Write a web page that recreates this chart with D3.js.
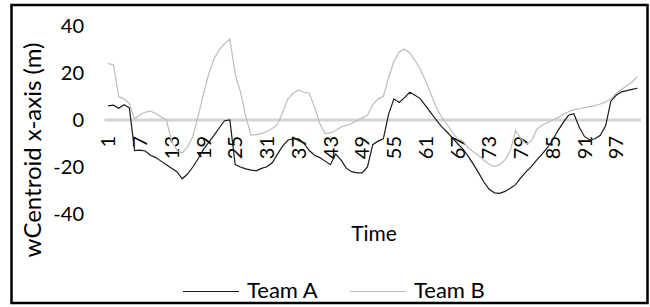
<!DOCTYPE html>
<html>
<head>
<meta charset="utf-8">
<script src="https://cdn.jsdelivr.net/npm/d3@7"></script>
<style>
  body { margin: 0; background: #fff; }
  text { font-family: Lato, "Open Sans", sans-serif; fill: #000; }
</style>
</head>
<body>
<div id="chart"></div>
<script>
// values (101 time steps)
const teamA = [6, 6.3, 5, 6.5, 5.2, -13, -12.8, -13.2, -15, -16, -17.5, -19, -20.5, -22, -25, -23, -20,
  -16.5, -12.5, -9.5, -6.5, -3.3, -0.3, 0, -19, -20, -20.8, -21.3, -21.6, -20.6, -19.9, -18.2, -14.5, -11,
  -8.5, -8, -8, -10, -13, -15, -16, -17.5, -19, -14.5, -17, -20.5, -22, -22.5, -22.5, -20,
  -10.5, -9, -8, 2.5, 9, 7.5, 9.5, 11.8, 10.5, 9, 6, 3, 0, -2.8, -5, -7.5, -10,
  -12.3, -15.3, -18.8, -22.5, -26.4, -29.5, -31, -31.2, -30.4, -29, -27.5, -24.5, -22, -19.7, -17, -14.5, -11.8, -8.5,
  -4.5, -1, 2, 2.7, -3, -7, -8.5, -8, -6.5, -2.5, 8, 10.5, 12, 12.5, 13, 13.5];
const teamB = [24, 23.5, 10, 9, 7, 0.5, 2.2, 3.3, 3.8, 2.8, 1.3, 0, -9, -13, -14, -11.5, -7,
  1.5, 11, 19.5, 26, 30, 32.5, 34.5, 19.5, 12, 1.5, -6.4, -6.2, -5.7, -4.9, -3.6, -2, 3.5,
  9, 11.5, 12.8, 11.8, 11.4, 5.5, -1.5, -5.8, -5.5, -4.5, -3, -2.3, -1.5, -0.3, 0.8, 2,
  6.5, 9, 10, 18, 25, 29, 30.2, 28.5, 25.3, 21.6, 16.5, 11, 5.4, 1.3, -1.8, -5, -8,
  -9, -11.7, -13.6, -15, -17.2, -18.8, -19.8, -19, -17, -13, -4.5, -8, -10.2, -9, -4, -2.2, -1.2, 0,
  1, 2.5, 3.5, 4.3, 4.8, 5.3, 5.7, 6.1, 6.8, 7.7, 9, 11.3, 13, 14.6, 16.2, 18.5];
const times = d3.range(1, teamA.length + 1);
const yTicks = [40, 20, 0, -20, -40];
const seriesNames = ["Team A", "Team B"];
const seriesColors = ["#1a1a1a", "#bdbdbd"];

const W = 650, H = 307;
const svg = d3.select("#chart").append("svg")
    .attr("width", W).attr("height", H);

// outer frame
svg.append("rect")
    .attr("x", 11.5).attr("y", 5).attr("width", 636).attr("height", 298)
    .attr("fill", "none").attr("stroke", "#000").attr("stroke-width", 2.5);

const x = d3.scaleBand().domain(times).range([105.5, 640]);
const y = d3.scaleLinear().domain([-40, 40]).range([214, 26]);
const cx = d => x(d) + x.bandwidth() / 2;

// y tick labels
svg.selectAll(".ylab").data(yTicks).enter().append("text")
    .attr("x", 84).attr("y", d => y(d)).attr("dy", "0.36em")
    .attr("text-anchor", "end").style("font-size", "20px")
    .text(d => d);

// zero line
svg.append("line")
    .attr("x1", x(1) - 1).attr("x2", x.range()[1] + 1)
    .attr("y1", y(0)).attr("y2", y(0))
    .attr("stroke", "#d4d4d4").attr("stroke-width", 3);

// category labels every 6 steps
svg.selectAll(".xlab").data(times.filter(t => (t - 1) % 6 === 0)).enter().append("text")
    .attr("transform", d => `translate(${cx(d)},${y(0) + 16}) rotate(-90)`)
    .attr("dy", "0.36em")
    .attr("text-anchor", "end").style("font-size", "20px")
    .text(d => d);

const line = d3.line().x((d, i) => cx(times[i])).y(d => y(d));
[teamA, teamB].forEach((s, k) => {
    svg.append("path").datum(s)
        .attr("fill", "none").attr("stroke", seriesColors[k]).attr("stroke-width", 1.2)
        .attr("d", line);
});
// Team A drawn above B
svg.selectAll("path").filter((d, i) => i === 0).raise();

// axis titles
svg.append("text")
    .attr("transform", "translate(41,150) rotate(-90)")
    .attr("text-anchor", "middle").style("font-size", "24px")
    .text("wCentroid x-axis (m)");
svg.append("text")
    .attr("x", 374).attr("y", 241).attr("text-anchor", "middle").style("font-size", "21px")
    .text("Time");

// legend
const legX = [183, 350];
seriesNames.forEach((n, k) => {
    svg.append("line")
        .attr("x1", legX[k]).attr("x2", legX[k] + 56)
        .attr("y1", 291.5).attr("y2", 291.5)
        .attr("stroke", seriesColors[k]).attr("stroke-width", 1.2);
    svg.append("text")
        .attr("x", legX[k] + 64).attr("y", 298).style("font-size", "22px")
        .text(n);
});
</script>
</body>
</html>
